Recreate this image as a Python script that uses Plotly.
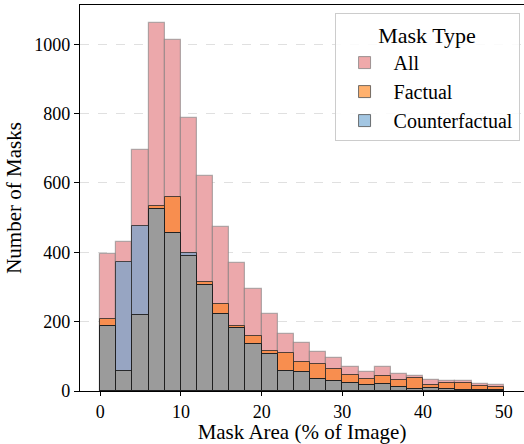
import plotly.graph_objects as go
import numpy as np

# Bin edges (% of image), width 2
bin_edges = [0, 2, 4, 6, 8, 10, 12, 14, 16, 18, 20, 22, 24, 26, 28, 30, 32, 34, 36, 38, 40, 42, 44, 46, 48, 50]

all_counts = [395, 430, 694, 1060, 1012, 786, 619, 472, 369, 295, 221, 164, 137, 113,
              95, 70, 56, 68, 48, 44, 31, 28, 28, 19, 18]
factual_counts = [207, 57, 218, 533, 558, 388, 313, 250, 188, 160, 114, 109, 83, 79,
                  63, 45, 36, 44, 33, 37, 18, 23, 23, 13, 12]
counterfactual_counts = [188, 373, 477, 526, 455, 399, 305, 221, 181, 135, 106, 57, 54, 34,
                         30, 23, 18, 21, 12, 6, 10, 5, 4, 4, 4]

series_names = ["All", "Factual", "Counterfactual"]
y_ticks = [0, 200, 400, 600, 800, 1000]
x_ticks = [0, 10, 20, 30, 40, 50]

edges = np.array(bin_edges, dtype=float)
centers = (edges[:-1] + edges[1:]) / 2
widths = np.diff(edges)
overlap = np.minimum(factual_counts, counterfactual_counts)

FONT = "Liberation Serif, Times New Roman, serif"

fig = go.Figure()

# rendered colours (as they appear after transparency blending)
fig.add_trace(go.Bar(x=centers, y=all_counts, width=widths, showlegend=False,
                     marker=dict(color="#eca8ab", line=dict(color="rgba(120,120,120,0.55)", width=1.2))))
fig.add_trace(go.Bar(x=centers, y=factual_counts, width=widths, showlegend=False,
                     marker=dict(color="#f88e4f", line=dict(color="rgba(40,40,40,0.8)", width=1))))
fig.add_trace(go.Bar(x=centers, y=counterfactual_counts, width=widths, showlegend=False,
                     marker=dict(color="#97a5c2", line=dict(color="rgba(40,40,40,0.8)", width=1))))
fig.add_trace(go.Bar(x=centers, y=overlap, width=widths, showlegend=False,
                     marker=dict(color="#9b9b9b", line=dict(color="rgba(20,20,20,0.85)", width=1))))

# legend entries
legend_colors = ["#efa9aa", "#ffb16e", "#a3c6e2"]
legend_edges = ["rgba(120,120,120,0.7)", "rgba(80,80,80,0.8)", "rgba(80,80,80,0.8)"]
for name, c, e in zip(series_names, legend_colors, legend_edges):
    fig.add_trace(go.Bar(x=[None], y=[None], name=name,
                         marker=dict(color=c, line=dict(color=e, width=1))))

fig.update_layout(
    width=524, height=444,
    margin=dict(l=80, r=0, t=5, b=53),
    barmode="overlay", bargap=0,
    plot_bgcolor="white", paper_bgcolor="white",
    font=dict(family=FONT, size=18, color="black"),
    legend=dict(
        title=dict(text="Mask Type", font=dict(size=22), side="top center"),
        x=0.99, xanchor="right", y=0.978, yanchor="top",
        bgcolor="rgba(255,255,255,0.85)", bordercolor="#cccccc", borderwidth=1,
        font=dict(size=20), traceorder="normal", itemwidth=48,
    ),
)
fig.update_xaxes(
    range=[-2.5, 52.5], tickvals=x_ticks, ticks="outside", ticklen=4, tickwidth=1,
    tickcolor="black", showline=True, linecolor="black", linewidth=1.2, mirror=True,
    showgrid=False, zeroline=False,
    title=dict(text="Mask Area (% of Image)", font=dict(size=21), standoff=4),
)
fig.update_yaxes(
    range=[0, 1113], tickvals=y_ticks, ticks="outside", ticklen=5, tickwidth=1,
    tickcolor="black", showline=True, linecolor="black", linewidth=1.2,
    showgrid=True, gridcolor="#e0e0e0", griddash="dash", gridwidth=1, zeroline=False,
    title=dict(text="Number of Masks", font=dict(size=21), standoff=6),
)

fig.write_html("out.html")
